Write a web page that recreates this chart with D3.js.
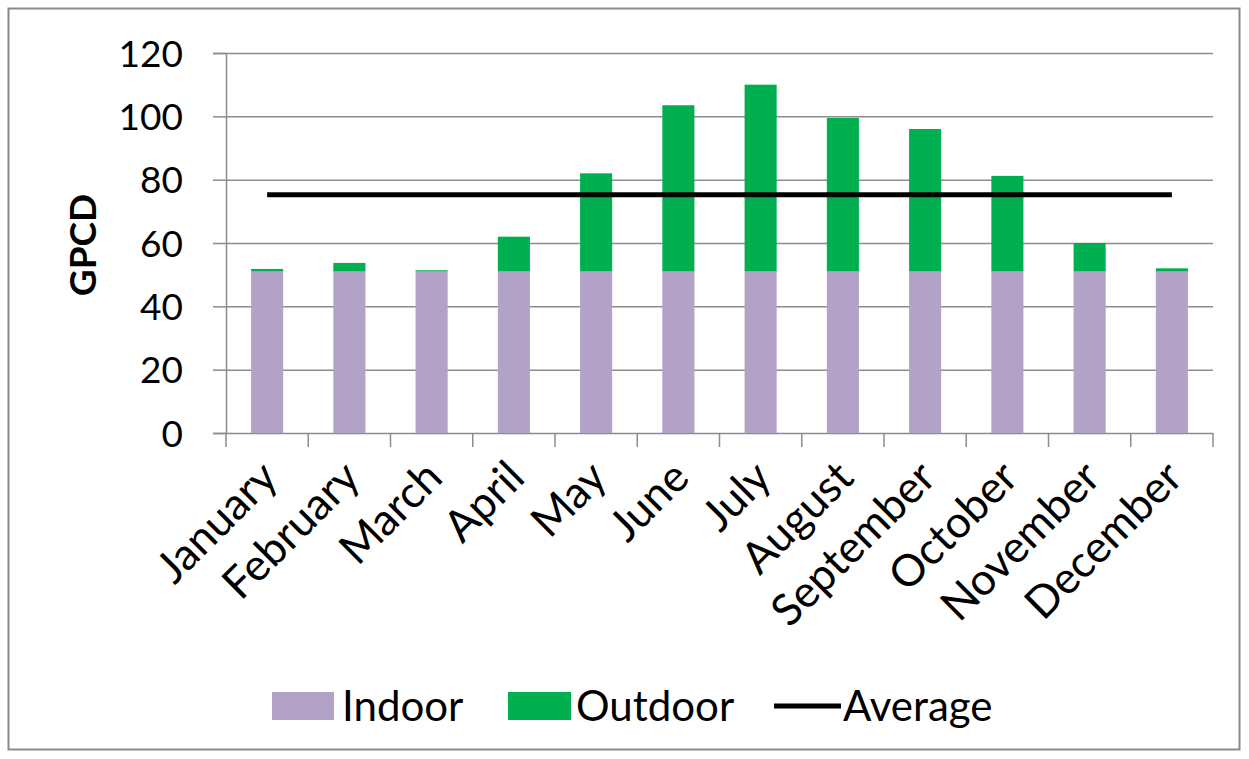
<!DOCTYPE html>
<html>
<head>
<meta charset="utf-8">
<script src="https://cdn.jsdelivr.net/npm/d3@7"></script>
<style>
  body { margin: 0; background: #fff; }
  text { font-family: Lato, "Open Sans", sans-serif; fill: #000; }
</style>
</head>
<body>
<div id="chart"></div>
<script>
// data
var months = ["January", "February", "March", "April", "May", "June",
    "July", "August", "September", "October", "November", "December"];
var indoor = [51, 51, 51, 51, 51, 51, 51, 51, 51, 51, 51, 51];
var outdoor = [0.8, 2.7, 0.4, 11, 31, 52.5, 59, 48.5, 45, 30.2, 9, 1];
var average = 75.2;
var yTicks = [0, 20, 40, 60, 80, 100, 120];

function draw() {
    var w = 1249;
    var h = 759;
    var left = 226, right = 1213, top = 53, bottom = 433;

    var svg = d3.select("#chart")
        .append("svg")
        .attr("width", w)
        .attr("height", h);

    svg.append("rect")
        .attr("width", w).attr("height", h)
        .attr("fill", "#fff");

    // outer frame
    svg.append("rect")
        .attr("x", 8.5).attr("y", 8.5)
        .attr("width", 1231).attr("height", 741)
        .attr("fill", "none")
        .attr("stroke", "#8a8a8a")
        .attr("stroke-width", 2);

    var x = d3.scaleBand()
        .domain(months)
        .range([left, right])
        .paddingInner(0.61)
        .paddingOuter(0.305);

    var y = d3.scaleLinear()
        .domain([0, 120])
        .range([bottom, top]);

    // gridlines
    svg.append("g")
        .selectAll("line")
        .data(yTicks.slice(1))
        .enter()
        .append("line")
        .attr("x1", left).attr("x2", right)
        .attr("y1", function(d) { return y(d) + 0.5; })
        .attr("y2", function(d) { return y(d) + 0.5; })
        .attr("stroke", "#8c8c8c")
        .attr("stroke-width", 1.5);

    // y axis
    var yAxis = svg.append("g")
        .attr("transform", "translate(" + left + ",0)")
        .call(d3.axisLeft(y).tickValues(yTicks).tickSize(13).tickPadding(30));
    yAxis.select(".domain").attr("stroke", "#8c8c8c").attr("stroke-width", 1.5);
    yAxis.selectAll(".tick line").attr("stroke", "#8c8c8c").attr("stroke-width", 1.5);
    yAxis.selectAll(".tick text")
        .style("font-size", "37px")
        .attr("dy", "0.36em");

    // x axis line and ticks between categories
    var step = x.step();
    var xb = svg.append("g");
    xb.append("line")
        .attr("x1", left).attr("x2", right)
        .attr("y1", bottom + 0.5).attr("y2", bottom + 0.5)
        .attr("stroke", "#8c8c8c").attr("stroke-width", 1.5);
    xb.selectAll("line.tk")
        .data(d3.range(months.length + 1))
        .enter()
        .append("line")
        .attr("class", "tk")
        .attr("x1", function(i) { return left + i * step; })
        .attr("x2", function(i) { return left + i * step; })
        .attr("y1", bottom)
        .attr("y2", bottom + 14)
        .attr("stroke", "#8c8c8c").attr("stroke-width", 1.5);

    // month labels
    svg.append("g")
        .selectAll("text")
        .data(months)
        .enter()
        .append("text")
        .attr("text-anchor", "end")
        .attr("transform", function(d) {
            var cx = x(d) + x.bandwidth() / 2 + 13;
            return "translate(" + cx + "," + (bottom + 47) + ") rotate(-45)";
        })
        .style("font-size", "44px")
        .text(function(d) { return d; });

    // stacked bars
    var bars = svg.append("g");
    bars.selectAll("rect.in")
        .data(months)
        .enter()
        .append("rect")
        .attr("class", "in")
        .attr("x", function(d) { return x(d); })
        .attr("y", function(d, i) { return y(indoor[i]); })
        .attr("width", x.bandwidth())
        .attr("height", function(d, i) { return y(0) - y(indoor[i]); })
        .attr("fill", "#b3a2c7");
    bars.selectAll("rect.out")
        .data(months)
        .enter()
        .append("rect")
        .attr("class", "out")
        .attr("x", function(d) { return x(d); })
        .attr("y", function(d, i) { return y(indoor[i] + outdoor[i]); })
        .attr("width", x.bandwidth())
        .attr("height", function(d, i) { return y(indoor[i]) - y(indoor[i] + outdoor[i]); })
        .attr("fill", "#00b050");

    // average line
    var line = d3.line()
        .x(function(d) { return x(d) + x.bandwidth() / 2; })
        .y(function() { return y(average); });
    svg.append("path")
        .datum(months)
        .attr("d", line)
        .attr("fill", "none")
        .attr("stroke", "#000")
        .attr("stroke-width", 5);

    // y title
    svg.append("text")
        .attr("transform", "translate(96,245) rotate(-90)")
        .attr("text-anchor", "middle")
        .style("font-size", "37px")
        .style("font-weight", "bold")
        .text("GPCD");

    // legend
    var lg = svg.append("g");
    var ly = 706;
    lg.append("rect").attr("x", 272).attr("y", ly - 14).attr("width", 62).attr("height", 28).attr("fill", "#b3a2c7");
    lg.append("text").attr("x", 342).attr("y", ly).attr("dy", "0.36em").style("font-size", "42px").text("Indoor");
    lg.append("rect").attr("x", 508).attr("y", ly - 14).attr("width", 63).attr("height", 28).attr("fill", "#00b050");
    lg.append("text").attr("x", 576).attr("y", ly).attr("dy", "0.36em").style("font-size", "42px").text("Outdoor");
    lg.append("line").attr("x1", 774).attr("x2", 841).attr("y1", ly).attr("y2", ly).attr("stroke", "#000").attr("stroke-width", 5);
    lg.append("text").attr("x", 843).attr("y", ly).attr("dy", "0.36em").style("font-size", "42px").text("Average");
}

window.onload = draw;
</script>
</body>
</html>
